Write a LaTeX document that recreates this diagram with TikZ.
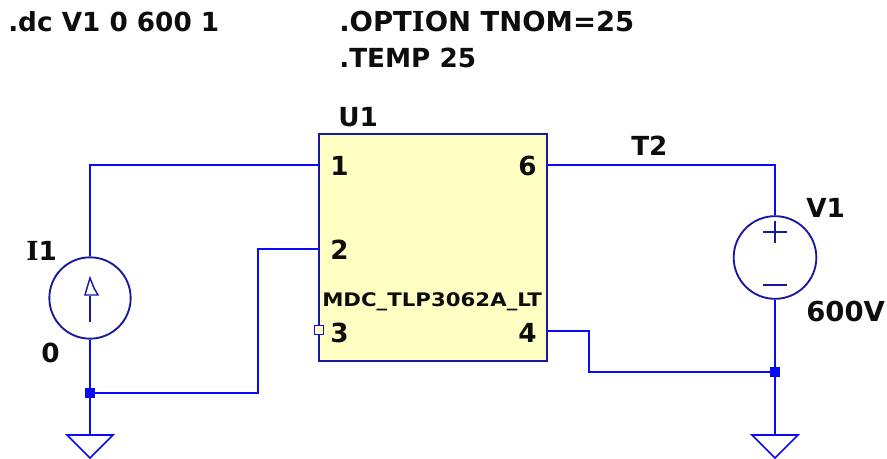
\documentclass[tikz,border=0pt]{standalone}
\usepackage{fontspec}
\setmainfont{DejaVu Sans}
\newfontfamily\serifbold{DejaVu Serif}
\newfontfamily\partfont[FakeStretch=1.14]{DejaVu Sans}
\usetikzlibrary{calc}
\definecolor{wireblue}{RGB}{10,10,250}
\definecolor{symblue}{RGB}{25,25,160}
\definecolor{boxyellow}{RGB}{255,255,196}
\tikzset{
	wire/.style={line width=1.6pt, color=wireblue},
	sym/.style={line width=1.4pt, color=symblue},
	dot/.style={fill=wireblue, draw=none, minimum size=7.5pt, inner sep=0pt},
	source/.style={circle, draw, sym, minimum size=61pt, inner sep=0pt},
	lbl/.style={anchor=base west, inner sep=0pt, font=\bfseries\fontsize{19.7}{19.7}\selectfont, text=black!95}
}
\def\groundsym(#1){\draw[wire, line width=1.2pt] ($(#1)+(-23,0)$) -- ($(#1)+(23,0)$) -- ($(#1)+(0,23)$) -- cycle;}
\begin{document}
\begin{tikzpicture}[x=0.75pt, y=-0.75pt]
	%%%%% FRAME %%%%%
	\useasboundingbox (0, 0) rectangle (887, 459);

	%%%%% PARTS %%%%%
	\node[draw=symblue, line width=1.5pt, fill=boxyellow, minimum width=171pt, minimum height=170.25pt, inner sep=0pt] (chip) at (433, 247.5) {};
	\node[source] (isrc) at (90, 298) {};
	\node[source, minimum size=62pt] (vsrc) at (775, 257.5) {};

	\coordinate (pin1) at (319, 165);
	\coordinate (pin2) at (319, 249);
	\coordinate (pin3) at (319, 330);
	\coordinate (pin4) at (547, 331);
	\coordinate (pin6) at (547, 165);
	\coordinate (gndl) at (90, 435);
	\coordinate (gndr) at (775, 435);
	\node[dot] (jl) at (90, 393) {};
	\node[dot] (jr) at (775, 372) {};

	%%%%% WIRES %%%%%
	\draw[wire] (isrc.north) |- (pin1);
	\draw[wire] (pin6) -| (vsrc.north);
	\draw[wire] (isrc.south) -- (jl) -- (gndl);
	\draw[wire] (jl) -- (258, 393) -- (258, 249) -- (pin2);
	\draw[wire] (vsrc.south) -- (jr) -- (gndr);
	\draw[wire] (pin4) -- (589, 331) -- (589, 372) -- (jr);
	\groundsym(gndl)
	\groundsym(gndr)

	%%%%% SYMBOLS %%%%%
	\draw[sym] (90, 322) -- (90, 296);
	\draw[sym, line width=1.1pt] (85, 295) -- (98, 295) -- (94, 288) -- (90, 278) -- (87, 288) -- cycle;
	\draw[sym] (763, 232) -- (787, 232);
	\draw[sym] (775, 221) -- (775, 243);
	\draw[sym] (763, 285) -- (787, 285);
	\node[draw=wireblue, line width=1pt, fill=boxyellow, minimum size=6.5pt, inner sep=0pt] (pad3) at (pin3) {};

	%%%%% TEXT %%%%%
	\node[lbl] (dccmd) at (8, 32) {.dc V1 0 600 1};
	\node[lbl, font=\bfseries\fontsize{20.6}{20.6}\selectfont] (optcmd) at (339, 32) {.OPT{\serifbold I}ON TNOM=25};
	\node[lbl] (tempcmd) at (339, 68) {.TEMP 25};
	\node[lbl] (nameu) at (338, 127) {U1};
	\node[lbl] (num1) at (330, 176) {1};
	\node[lbl] (num2) at (330, 260) {2};
	\node[lbl] (num3) at (330, 342) {3};
	\node[lbl] (num6) at (518, 176) {6};
	\node[lbl] (num4) at (518, 342) {4};
	\node[lbl, font=\partfont\bfseries\fontsize{14}{14}\selectfont] (partname) at (322, 306) {MDC\_TLP3062A\_LT};
	\node[lbl] (namet) at (631, 156) {T2};
	\node[lbl] (namev) at (806, 218) {V1};
	\node[lbl, font=\bfseries\fontsize{20.6}{20.6}\selectfont] (valv) at (806, 321) {600V};
	\node[lbl] (namei) at (26, 261) {{\serifbold I}1};
	\node[lbl] (vali) at (41, 362) {0};
\end{tikzpicture}
\end{document}
